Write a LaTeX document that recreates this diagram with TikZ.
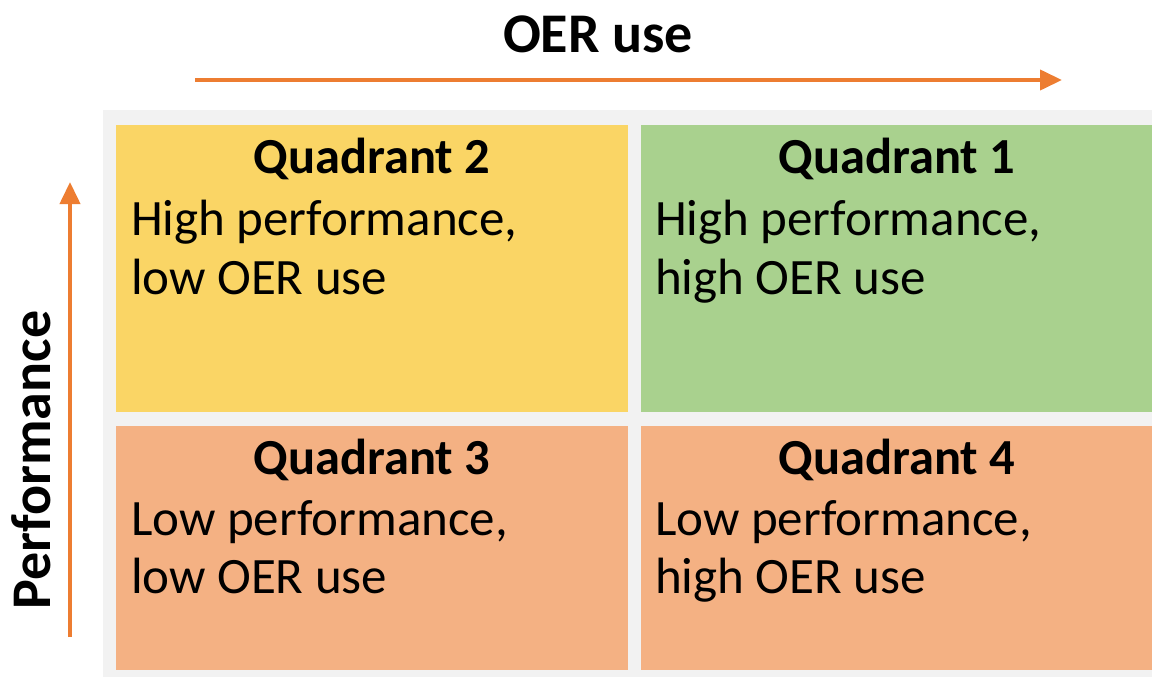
\documentclass[tikz,border=0pt]{standalone}
\usepackage{fontspec}
\setmainfont{Carlito}
\usetikzlibrary{arrows.meta}
\definecolor{qyellow}{HTML}{FAD565}
\definecolor{qgreen}{HTML}{A9D18E}
\definecolor{qorange}{HTML}{F4B183}
\definecolor{qgrey}{HTML}{F2F2F2}
\definecolor{axis}{HTML}{ED7D31}
\begin{document}
\begin{tikzpicture}[x=1pt,y=-1pt,
  lbl/.style={inner sep=0,outer sep=0,font=\fontsize{51}{60}\selectfont},
  ttl/.style={inner sep=0,outer sep=0,font=\fontsize{50.5}{60}\selectfont\bfseries},
  axl/.style={inner sep=0,outer sep=0,font=\fontsize{56}{60}\selectfont\bfseries},
  axisarrow/.style={draw=axis,line width=4pt,-{Triangle[length=22pt,width=20pt]}}]
\useasboundingbox (0,0) rectangle (1152,677);
\fill[white] (0,0) rectangle (1152,677);
\fill[qgrey] (103,110) rectangle (1160,677);
\fill[qyellow] (116,125) rectangle (628,412);
\fill[qgreen] (641,125) rectangle (1160,412);
\fill[qorange] (116,426) rectangle (628,670);
\fill[qorange] (641,426) rectangle (1160,670);
% titles
\node[ttl,anchor=base] (t2) at (372,173) {Quadrant 2};
\node[ttl,anchor=base] (t1) at (897,173) {Quadrant 1};
\node[ttl,anchor=base] (t3) at (372,474) {Quadrant 3};
\node[ttl,anchor=base] (t4) at (897,474) {Quadrant 4};
% bodies
\node[lbl,anchor=base west] (b2a) at (131,235) {High performance,};
\node[lbl,anchor=base west] (b2b) at (131,294) {low OER use};
\node[lbl,anchor=base west] (b1a) at (655,235) {High performance,};
\node[lbl,anchor=base west] (b1b) at (655,294) {high OER use};
\node[lbl,anchor=base west] (b3a) at (131,535) {Low performance,};
\node[lbl,anchor=base west] (b3b) at (131,593) {low OER use};
\node[lbl,anchor=base west] (b4a) at (655,535) {Low performance,};
\node[lbl,anchor=base west] (b4b) at (655,593) {high OER use};
% axes
\node[axl,anchor=base] (xl) at (598,53) {OER use};
\node[axl,anchor=base,rotate=90] (yl) at (50,460) {Performance};
\coordinate (xs) at (195,80);
\coordinate (xe) at (1062,80);
\coordinate (ys) at (70,637);
\coordinate (ye) at (70,182);
\draw[axisarrow] (xs) -- (xe);
\draw[axisarrow] (ys) -- (ye);
\end{tikzpicture}
\end{document}
